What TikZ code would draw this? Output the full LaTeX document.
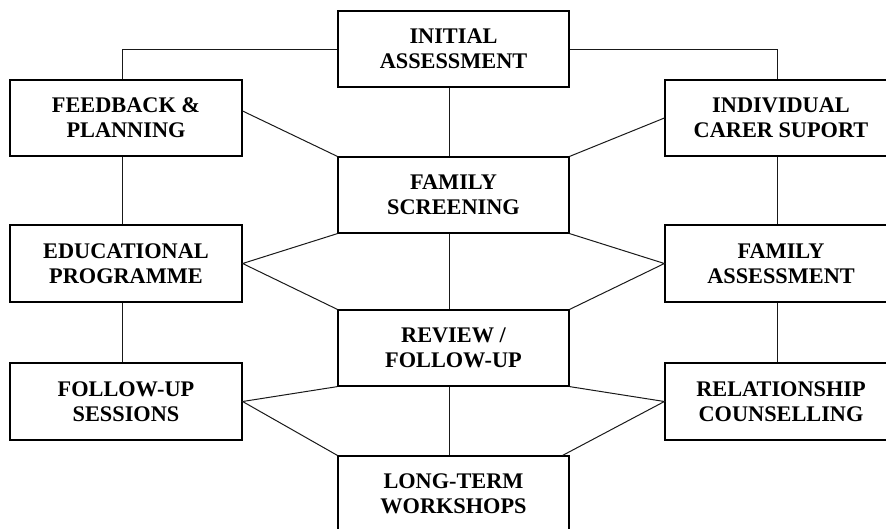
\documentclass[tikz,border=0pt]{standalone}
\usepackage{fontspec}
\setmainfont{Liberation Serif}
\begin{document}
\begin{tikzpicture}[x=1pt,y=-1pt,
  box/.style={draw=black,line width=1.2pt,fill=white,minimum width=232pt,minimum height=76pt,inner sep=0pt,align=center,
    font=\fontsize{22.3}{25}\selectfont\bfseries},
  link/.style={draw=black!90,line width=1pt}]
\path[use as bounding box] (0,0) rectangle (886,528);
\clip (0,0) rectangle (886,528);
% left column
\node[box] (fb)  at (126,118)   {FEEDBACK \&\\PLANNING};
\node[box,minimum height=77pt] (edu) at (126,263.5) {EDUCATIONAL\\PROGRAMME};
\node[box,minimum height=77pt] (fu)  at (126,401.5) {FOLLOW-UP\\SESSIONS};
% centre column
\node[box,minimum width=231pt] (init) at (453.5,49)  {INITIAL\\ASSESSMENT};
\node[box,minimum width=231pt] (fs)   at (453.5,195) {FAMILY\\SCREENING};
\node[box,minimum width=231pt] (rev)  at (453.5,348) {REVIEW /\\FOLLOW-UP};
\node[box,minimum width=231pt] (lt)   at (453.5,494) {LONG-TERM\\WORKSHOPS};
% right column
\node[box] (ind) at (781,118)   {INDIVIDUAL\\CARER SUPORT};
\node[box,minimum height=77pt] (fa)  at (781,263.5) {FAMILY\\ASSESSMENT};
\node[box,minimum height=77pt] (rel) at (781,401.5) {RELATIONSHIP\\COUNSELLING};
% connectors
\draw[link] (init.west) -| ([xshift=-4pt]fb.north);
\draw[link] (init.east) -| ([xshift=-4pt]ind.north);
\draw[link] ([xshift=-4pt]init.south) -- ([xshift=-4pt]fs.north);
\draw[link] ([xshift=-4pt]fs.south) -- ([xshift=-4pt]rev.north);
\draw[link] ([xshift=-4pt]rev.south) -- ([xshift=-4pt]lt.north);
\draw[link] ([xshift=-4pt]fb.south) -- ([xshift=-4pt]edu.north);
\draw[link] ([xshift=-4pt]edu.south) -- ([xshift=-4pt]fu.north);
\draw[link] ([xshift=-4pt]ind.south) -- ([xshift=-4pt]fa.north);
\draw[link] ([xshift=-4pt]fa.south) -- ([xshift=-4pt]rel.north);
\draw[link] ([yshift=7pt]fb.east) -- (fs.north west);
\draw[link] (ind.west) -- (fs.north east);
\draw[link] (fs.south west) -- (edu.east) -- (rev.north west);
\draw[link] (fs.south east) -- (fa.west) -- (rev.north east);
\draw[link] (rev.south west) -- (fu.east) -- (lt.north west);
\draw[link] (rev.south east) -- (rel.west) -- ([xshift=-7pt]lt.north east);
\end{tikzpicture}
\end{document}
